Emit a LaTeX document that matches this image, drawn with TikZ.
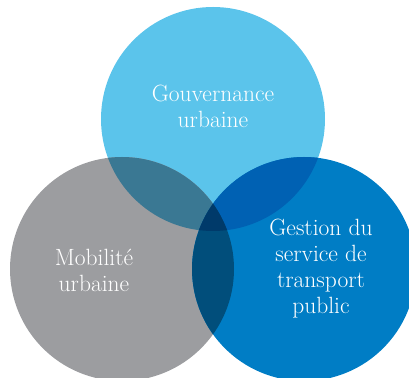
\documentclass[tikz,border=0pt]{standalone}
\definecolor{govblue}{HTML}{5BC4EB}
\definecolor{mobgray}{HTML}{9C9DA0}
\definecolor{trblue}{HTML}{007DC5}
\definecolor{govmob}{HTML}{3A7893}
\definecolor{govtr}{HTML}{0061B3}
\definecolor{mobtr}{HTML}{014E7B}
\definecolor{allthree}{HTML}{003A6A}
\tikzset{
  disc/.style={circle,minimum size=224pt,inner sep=0pt},
  lbl/.style={text=white,align=center,font=\fontsize{23.5}{26}\selectfont}
}
\begin{document}
\begin{tikzpicture}[x=1pt,y=1pt]
\useasboundingbox (0,0) rectangle (409,377);
\clip (0,0) rectangle (409,377);

\node[disc,fill=govblue] (gov) at (213,258) {};
\node[disc,fill=mobgray] (mob) at (122,108) {};
\node[disc,fill=trblue] (tr) at (304,108) {};

% overlaps
\begin{scope}
\clip (gov.center) circle (112);
\fill[govmob] (mob.center) circle (112);
\fill[govtr] (tr.center) circle (112);
\end{scope}
\begin{scope}
\clip (mob.center) circle (112);
\fill[mobtr] (tr.center) circle (112);
\clip (tr.center) circle (112);
\fill[allthree] (gov.center) circle (112);
\end{scope}

\node[lbl] (govlbl) at (213,271) {Gouvernance\\urbaine};
\node[lbl] (moblbl) at (94,107) {Mobilit\'e\\urbaine};
\node[lbl] (trlbl) at (321,108) {Gestion du\\service de\\transport\\public};
\end{tikzpicture}
\end{document}
